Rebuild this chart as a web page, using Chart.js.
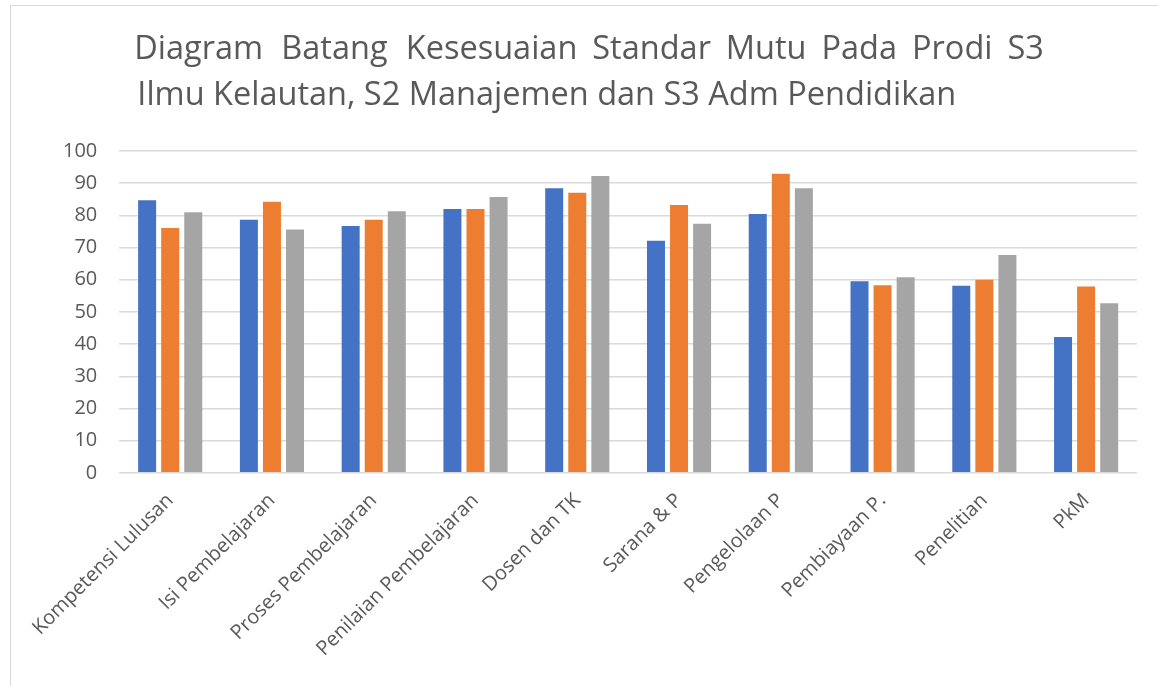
<!DOCTYPE html>
<html>
<head>
<meta charset="utf-8">
<script src="https://cdn.jsdelivr.net/npm/chart.js@4.4.0/dist/chart.umd.min.js"></script>
<style>
  html, body { margin: 0; padding: 0; background: #fff; overflow: hidden; }
  #c { position: absolute; left: 0; top: 0; display: block; }
  #frame { position: absolute; left: 10px; top: 5px; width: 1160px; height: 700px; border: 1.5px solid #d9d9d9; box-sizing: border-box; pointer-events: none; }
</style>
</head>
<body>
<canvas id="c"></canvas>
<div id="frame"></div>
<script>
const categories = ["Kompetensi Lulusan", "Isi Pembelajaran", "Proses Pembelajaran", "Penilaian Pembelajaran", "Dosen dan TK", "Sarana & P", "Pengelolaan P", "Pembiayaan P.", "Penelitian", "PkM"];
const seriesS3Kelautan = [84.7, 78.6, 76.7, 82.0, 88.4, 72.1, 80.4, 59.5, 58.1, 42.2];
const seriesS2Manajemen = [76.1, 84.2, 78.6, 82.0, 87.0, 83.2, 92.9, 58.3, 60.0, 57.9];
const seriesS3AdmPendidikan = [81.0, 75.6, 81.3, 85.7, 92.2, 77.4, 88.4, 60.8, 67.7, 52.7];
const yTicks = [0, 10, 20, 30, 40, 50, 60, 70, 80, 90, 100];
const titleLines = ["Diagram Batang Kesesuaian Standar Mutu Pada Prodi S3", "Ilmu Kelautan, S2 Manajemen dan S3 Adm Pendidikan"];

const canvas = document.getElementById('c');
const W = 1158, H = 686;
canvas.width = W; canvas.height = H;
canvas.style.width = W + 'px'; canvas.style.height = H + 'px';

const pad = { left: 41, right: 21, top: 10, bottom: 17 };
const fam = "'Open Sans', sans-serif";
const ctx0 = canvas.getContext('2d');
// size the title so the second line is ~818px wide
ctx0.font = "100px " + fam;
const titleSize = Math.round(818 / ctx0.measureText(titleLines[1]).width * 100 * 10) / 10;
ctx0.font = titleSize + "px " + fam;
// justify first line to ~908px by widening word gaps
const words = titleLines[0].split(' ');
const gaps = words.slice(0, -1).map(() => ' ');
const build = () => words.map((w, i) => w + (i < gaps.length ? gaps[i] : '')).join('');
let line1 = build();
let guard = 0, gi = 0;
while (ctx0.measureText(line1).width < 907 && guard++ < 400) {
  gaps[gi % gaps.length] += '\u200A';
  gi++;
  line1 = build();
}
// center of title box; pad both lines so visible text starts at x=137
const center = (pad.left + W - pad.right) / 2;
const target = 2 * (center - 137);
let line2 = titleLines[1];
guard = 0;
while (ctx0.measureText(line1 + '\u00a0').width <= target && guard++ < 200) line1 += '\u00a0';
guard = 0;
while (ctx0.measureText(line2 + '\u00a0').width <= ctx0.measureText(line1).width && guard++ < 300) line2 += '\u00a0';

new Chart(canvas, {
  type: 'bar',
  data: {
    labels: categories,
    datasets: [
      { label: 'S3 Ilmu Kelautan', data: seriesS3Kelautan, backgroundColor: '#4472C4' },
      { label: 'S2 Manajemen', data: seriesS2Manajemen, backgroundColor: '#ED7D31' },
      { label: 'S3 Adm Pendidikan', data: seriesS3AdmPendidikan, backgroundColor: '#A5A5A5' }
    ]
  },
  options: {
    responsive: false,
    animation: false,
    layout: { padding: pad },
    datasets: { bar: { categoryPercentage: 0.68, barPercentage: 0.78 } },
    plugins: {
      legend: { display: false },
      tooltip: { enabled: false },
      title: {
        display: true,
        text: [line1, line2],
        color: '#595959',
        font: { family: fam, size: titleSize, weight: 'normal', lineHeight: 45.5 / titleSize },
        padding: { top: 17, bottom: 33 }
      }
    },
    scales: {
      x: {
        grid: { display: false },
        border: { display: false },
        ticks: { color: '#595959', font: { family: fam, size: 20 }, maxRotation: 45, minRotation: 45, padding: 8 }
      },
      y: {
        min: 0, max: 100,
        afterBuildTicks: (axis) => { axis.ticks = yTicks.map(v => ({ value: v })); },
        grid: { color: '#d9d9d9', lineWidth: 1.5, drawTicks: false },
        border: { display: false },
        ticks: { color: '#595959', font: { family: fam, size: 20 }, padding: 22 }
      }
    }
  }
});
</script>
</body>
</html>
